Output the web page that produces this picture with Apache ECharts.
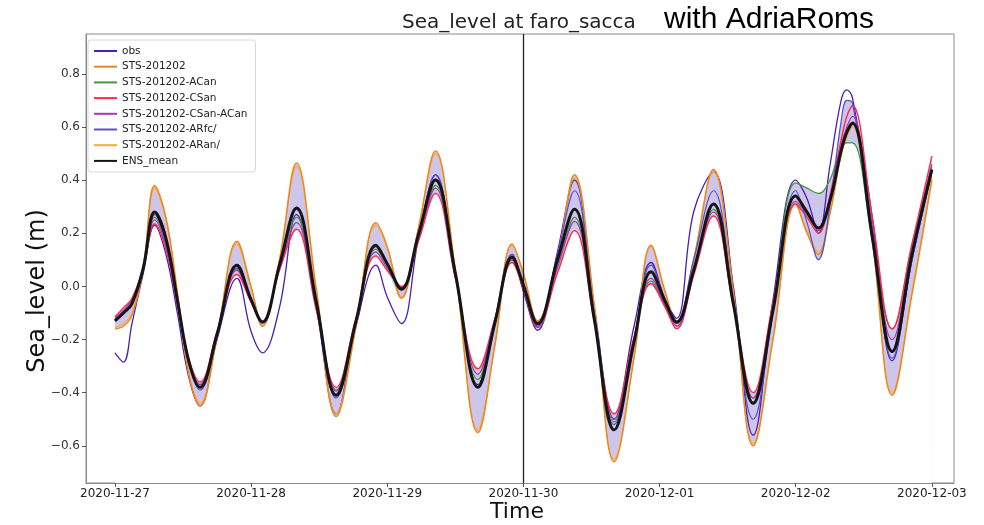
<!DOCTYPE html>
<html>
<head>
<meta charset="utf-8">
<script src="https://cdn.jsdelivr.net/npm/echarts@6/dist/echarts.min.js"></script>
<style>
html,body{margin:0;padding:0;background:#fff;}
#chart{width:984px;height:525px;}
</style>
</head>
<body>
<div id="chart"></div>
<script>
// hours since 2020-11-27 00:00
const hours = [0,1.5,3,5,7,9,11,13,15,18,21.5,24,26,29,32,35.5,39,42.5,46,48,50.5,53.5,56.5,60,64,67,70,72,74.5,78,81,84.5,88,91.5,94.5,97,99,102,105.5,109,112.5,116,120,122,124,126,128,129,130,133.5,137,140.5,144];

const obs = [-0.25,-0.285,-0.14,0.05,0.23,0.12,-0.10,-0.34,-0.45,-0.20,0.03,-0.17,-0.25,-0.08,0.27,-0.08,-0.48,-0.15,0.08,-0.04,-0.14,0.18,0.42,0.05,-0.37,-0.12,0.12,-0.02,-0.165,0.13,0.40,-0.08,-0.50,-0.15,0.09,-0.05,-0.12,0.28,0.43,0.0,-0.56,-0.05,0.40,0.33,0.20,0.45,0.70,0.74,0.71,0.26,-0.28,0.10,0.43];

const sts = [-0.16,-0.15,-0.11,0.07,0.38,0.26,-0.02,-0.33,-0.45,-0.19,0.17,0.00,-0.15,0.10,0.465,-0.01,-0.49,-0.15,0.24,0.15,-0.045,0.22,0.51,0.06,-0.55,-0.22,0.16,0.05,-0.13,0.11,0.42,-0.07,-0.66,-0.27,0.155,-0.02,-0.14,0.10,0.44,-0.02,-0.60,-0.20,0.31,0.20,0.12,0.27,0.50,0.57,0.61,0.17,-0.41,-0.03,0.40];

const stsACan = [-0.125,-0.095,-0.06,0.07,0.26,0.16,-0.06,-0.275,-0.37,-0.175,0.065,-0.05,-0.13,0.07,0.26,-0.07,-0.395,-0.125,0.14,0.08,-0.005,0.185,0.38,0.04,-0.35,-0.13,0.10,0.0,-0.145,0.08,0.26,-0.125,-0.51,-0.20,0.02,-0.075,-0.15,0.05,0.29,-0.07,-0.42,-0.07,0.39,0.37,0.35,0.40,0.52,0.54,0.54,0.18,-0.16,0.16,0.45];

const stsCSan = [-0.115,-0.08,-0.045,0.07,0.235,0.14,-0.07,-0.27,-0.36,-0.17,0.045,-0.06,-0.13,0.06,0.215,-0.09,-0.38,-0.12,0.115,0.06,0.0,0.17,0.35,0.03,-0.31,-0.12,0.09,-0.01,-0.155,0.05,0.21,-0.13,-0.48,-0.19,0.01,-0.08,-0.16,0.04,0.265,-0.07,-0.40,-0.06,0.31,0.26,0.20,0.34,0.55,0.64,0.68,0.26,-0.16,0.16,0.49];

const stsCSanACan = [-0.12,-0.09,-0.05,0.07,0.25,0.15,-0.065,-0.275,-0.37,-0.175,0.06,-0.055,-0.13,0.065,0.24,-0.08,-0.39,-0.125,0.13,0.07,-0.005,0.18,0.37,0.035,-0.33,-0.125,0.10,-0.005,-0.15,0.07,0.245,-0.13,-0.50,-0.20,0.03,-0.07,-0.15,0.05,0.28,-0.07,-0.42,-0.07,0.32,0.27,0.21,0.33,0.53,0.60,0.64,0.22,-0.20,0.14,0.46];

const stsARfc = [-0.13,-0.10,-0.065,0.07,0.27,0.17,-0.06,-0.29,-0.39,-0.18,0.07,-0.05,-0.135,0.08,0.29,-0.06,-0.42,-0.13,0.15,0.08,-0.015,0.20,0.42,0.05,-0.38,-0.14,0.12,0.0,-0.15,0.12,0.36,-0.10,-0.52,-0.20,0.08,-0.05,-0.13,0.10,0.36,-0.05,-0.50,-0.10,0.36,0.24,0.10,0.30,0.62,0.70,0.69,0.22,-0.27,0.10,0.43];

const stsARan = [-0.155,-0.14,-0.10,0.07,0.37,0.25,-0.025,-0.325,-0.44,-0.19,0.16,-0.005,-0.15,0.10,0.45,-0.015,-0.48,-0.15,0.23,0.145,-0.04,0.22,0.50,0.06,-0.54,-0.215,0.155,0.045,-0.13,0.11,0.41,-0.075,-0.65,-0.265,0.15,-0.025,-0.14,0.10,0.43,-0.025,-0.59,-0.195,0.31,0.21,0.13,0.27,0.49,0.56,0.60,0.17,-0.40,-0.02,0.41];

const ensMean = [-0.13,-0.10,-0.065,0.07,0.28,0.18,-0.05,-0.28,-0.38,-0.18,0.08,-0.05,-0.135,0.08,0.295,-0.06,-0.41,-0.13,0.155,0.085,-0.01,0.195,0.40,0.05,-0.38,-0.135,0.11,0.005,-0.14,0.10,0.29,-0.125,-0.54,-0.21,0.055,-0.057,-0.135,0.06,0.31,-0.065,-0.44,-0.09,0.34,0.28,0.22,0.32,0.51,0.58,0.615,0.185,-0.245,0.12,0.44];

const dayTickLabels = ['2020-11-27','2020-11-28','2020-11-29','2020-11-30','2020-12-01','2020-12-02','2020-12-03'];
const dayTickHours = [0,24,48,72,96,120,144];
const yTicks = [-0.6,-0.4,-0.2,0.0,0.2,0.4,0.6,0.8];
const seriesNames = ['obs','STS-201202','STS-201202-ACan','STS-201202-CSan','STS-201202-CSan-ACan','STS-201202-ARfc/','STS-201202-ARan/','ENS_mean'];

const pairs = arr => hours.map((h,i)=>[h, arr[i]]);

const members = [sts, stsACan, stsCSan, stsCSanACan, stsARfc, stsARan];
const bandLow = hours.map((h,i)=>Math.min(...members.map(m=>m[i])));
const bandHigh = hours.map((h,i)=>Math.max(...members.map(m=>m[i])));

const SM = 0.4;
function lineSeries(name, arr, color, width, z){
  return {name, type:'line', data:pairs(arr), showSymbol:false, symbol:'none', smooth:SM,
    lineStyle:{color, width}, itemStyle:{color}, z, animation:false};
}

const chart = echarts.init(document.getElementById('chart'));
chart.setOption({
  animation:false,
  backgroundColor:'#fff',
  grid:{left:86, right:30, top:34, bottom:42, show:true, borderColor:'#8a8a8a', borderWidth:1, backgroundColor:'transparent'},
  xAxis:{type:'value', min:-5.1, max:147.9, z:6,
    axisLine:{show:true, onZero:false, lineStyle:{color:'#8a8a8a'}},
    axisTick:{show:true, length:4, lineStyle:{color:'#555'}, customValues: dayTickHours},
    axisLabel:{fontFamily:'DejaVu Sans', fontSize:12, color:'#222', margin:5,
      customValues: dayTickHours,
      formatter: v => dayTickLabels[dayTickHours.indexOf(Math.round(v))] || ''},
    splitLine:{show:false}},
  yAxis:{type:'value', min:-0.74, max:0.95, z:6,
    axisLine:{show:true, onZero:false, lineStyle:{color:'#8a8a8a'}},
    axisTick:{show:true, length:4, lineStyle:{color:'#555'}, customValues: yTicks},
    axisLabel:{fontFamily:'DejaVu Sans', fontSize:12, color:'#333', margin:6, customValues: yTicks,
      formatter: v => (v<0?'\u2212':'') + Math.abs(v).toFixed(1)},
    splitLine:{show:false}},
  legend:{orient:'vertical', left:88, top:40, data:seriesNames, itemWidth:23, itemHeight:1, itemGap:3.7,
    backgroundColor:'#fff', borderColor:'#d8d8d8', borderWidth:1, borderRadius:3, padding:[5,8,5,5], z:10,
    textStyle:{fontFamily:'DejaVu Sans', fontSize:10.5, color:'#222', lineHeight:12}},
  graphic:[
    {type:'text', left:402, top:13, style:{text:'Sea_level at faro_sacca', font:'20px "DejaVu Sans"', fill:'#222'}},
    {type:'text', left:664, top:5, style:{text:'with AdriaRoms', font:'30px "Liberation Sans"', fill:'#000'}},
    {type:'text', x:38, y:291, rotation:Math.PI/2, style:{text:'Sea_level (m)', font:'24px "DejaVu Sans"', fill:'#111', align:'center', verticalAlign:'middle'}},
    {type:'text', x:517, y:512, style:{text:'Time', font:'22px "DejaVu Sans"', fill:'#111', align:'center', verticalAlign:'middle'}}
  ],
  series:[
    {name:'bandHigh', type:'line', data:pairs(bandHigh), showSymbol:false, symbol:'none', smooth:SM,
      lineStyle:{opacity:0}, areaStyle:{color:'#cec5ea', opacity:1, origin:'start'}, z:1, silent:true},
    {name:'bandLow', type:'line', data:pairs(bandLow), showSymbol:false, symbol:'none', smooth:SM,
      lineStyle:{opacity:0}, areaStyle:{color:'#ffffff', opacity:1, origin:'start'}, z:1, silent:true},
    lineSeries('obs', obs, '#4b1fb5', 1.3, 3),
    lineSeries('STS-201202-ARan/', stsARan, '#f5ae35', 1.2, 3),
    lineSeries('STS-201202', sts, '#ec8620', 1.4, 3),
    lineSeries('STS-201202-ACan', stsACan, '#3f9b3f', 1.2, 3),
    lineSeries('STS-201202-CSan', stsCSan, '#ff2848', 1.4, 3),
    lineSeries('STS-201202-CSan-ACan', stsCSanACan, '#a23cb0', 1.2, 3),
    lineSeries('STS-201202-ARfc/', stsARfc, '#5a4fc8', 1.2, 3),
    Object.assign(lineSeries('ENS_mean', ensMean, '#151515', 3, 5), {
      markLine:{silent:true, symbol:'none', label:{show:false},
        lineStyle:{color:'#222', width:1.3, type:'solid'},
        data:[{xAxis: 72}]}})
  ]
});
</script>
</body>
</html>
